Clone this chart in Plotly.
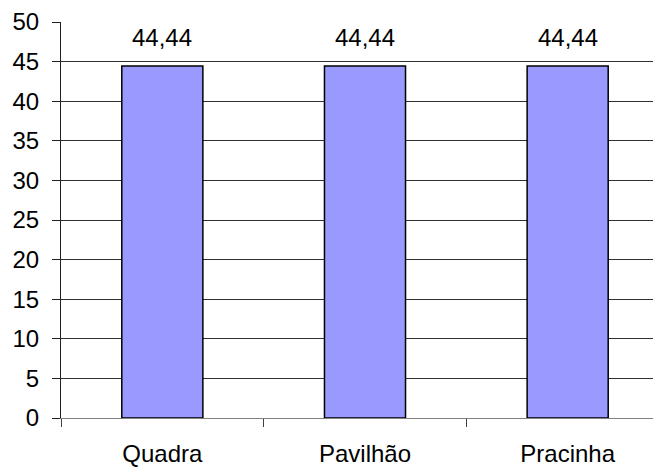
import plotly.graph_objects as go

# Data
categories = ["Quadra", "Pavilhão", "Pracinha"]
values = [44.44, 44.44, 44.44]
y_ticks = [0, 5, 10, 15, 20, 25, 30, 35, 40, 45, 50]

x_pos = list(range(len(categories)))
labels = [f"{v:.2f}".replace(".", ",") for v in values]

fig = go.Figure()

fig.add_trace(go.Bar(
    x=x_pos,
    y=values,
    width=0.4,
    marker=dict(color="#9999FF", line=dict(color="black", width=1.5)),
    hoverinfo="skip",
))

# value labels above bars
for xp, v, t in zip(x_pos, values, labels):
    fig.add_annotation(x=xp, y=v, text=t, showarrow=False, yshift=29,
                       font=dict(size=24, color="black"))

fig.update_layout(
    width=661, height=467,
    margin=dict(l=53, r=0, t=14, b=57),
    plot_bgcolor="white", paper_bgcolor="white",
    font=dict(family="Liberation Sans, Arial", size=24, color="black"),
    showlegend=False,
    xaxis=dict(
        range=[-0.5, 2.5],
        tickvals=x_pos, ticktext=categories,
        ticks="", showgrid=False, automargin=False,
        showline=True, linecolor="#808080", linewidth=1,
        ticklabelstandoff=14,
        minor=dict(tickvals=[-0.5, 0.5, 1.5, 2.5], ticks="outside",
                   ticklen=8, tickcolor="#404040", showgrid=False),
        zeroline=False,
    ),
    yaxis=dict(
        range=[0, 50], tickvals=y_ticks, automargin=False,
        ticks="outside", ticklen=8, tickcolor="#202020",
        showgrid=True, gridcolor="#303030", gridwidth=1,
        showline=True, linecolor="#202020", linewidth=1,
        ticklabelstandoff=8,
        zeroline=False,
    ),
)

fig.write_html("out.html")
